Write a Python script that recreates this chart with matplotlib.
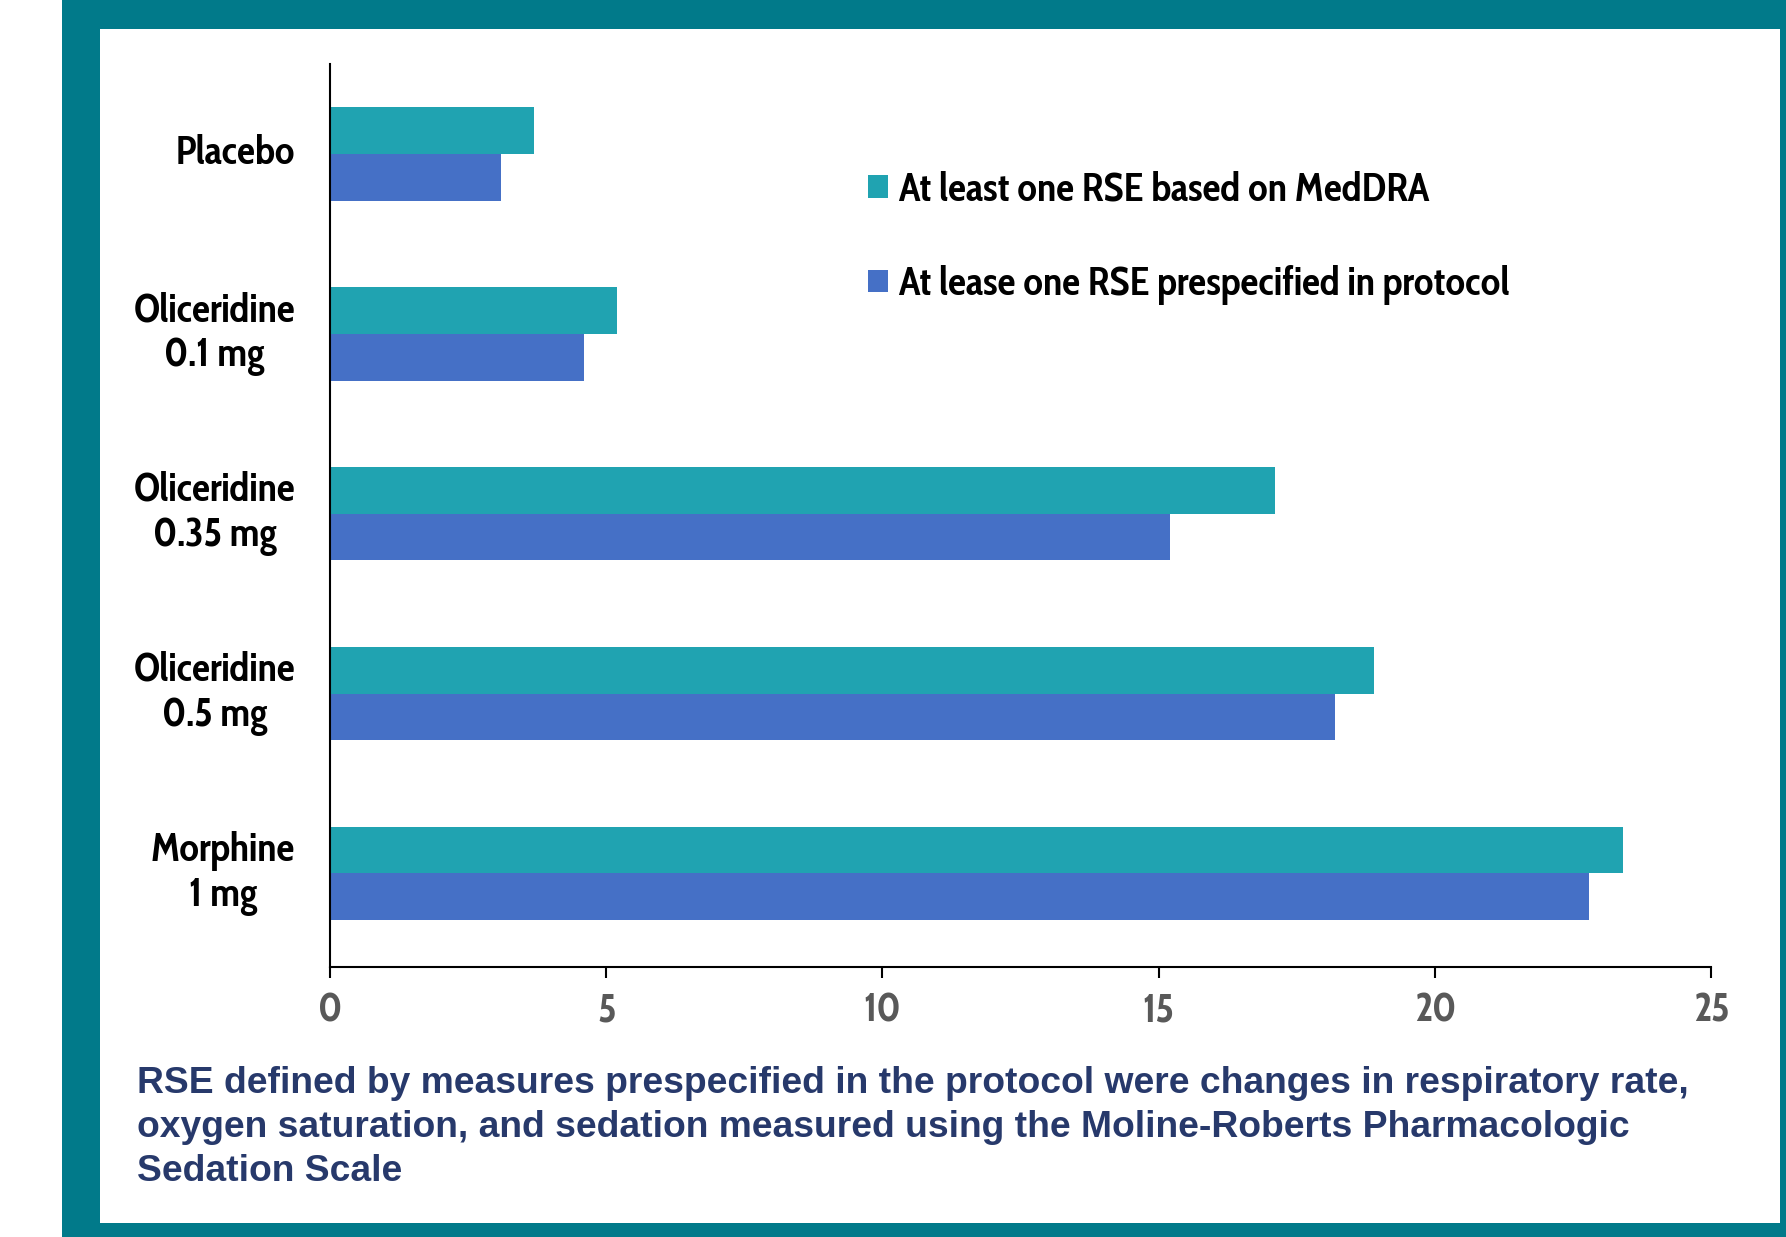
import matplotlib
matplotlib.use("Agg")
import matplotlib.pyplot as plt
from matplotlib.patches import Rectangle, Patch
from matplotlib import font_manager
from matplotlib.textpath import TextPath
import numpy as np

groups = ["Placebo", "Oliceridine\n0.1 mg", "Oliceridine\n0.35 mg",
          "Oliceridine\n0.5 mg", "Morphine\n1 mg"]
meddra = [3.7, 5.2, 17.1, 18.9, 23.4]
protocol = [3.1, 4.6, 15.2, 18.2, 22.8]
series_names = ["At least one RSE based on MedDRA",
                "At lease one RSE prespecified in protocol"]
xticks = [0, 5, 10, 15, 20, 25]
note = ("RSE defined by measures prespecified in the protocol were changes in respiratory rate,\n"
        "oxygen saturation, and sedation measured using the Moline-Roberts Pharmacologic\n"
        "Sedation Scale")

TEAL = "#20A3B1"
BLUE = "#4570C6"
FRAME = "#017A8A"
NAVY = "#27396B"


def weight_num(w):
    if isinstance(w, (int, float)):
        return w
    return font_manager.weight_dict.get(w, 400)


def width_ratio(fp):
    # width of a sample line relative to the capital height
    w = TextPath((0, 0), series_names[0], prop=fp).get_extents().width
    c = TextPath((0, 0), "H", prop=fp).get_extents().height
    return w / c, c


# pick the bold narrow face closest to the label proportions
target = 19.0
cands = [f for f in font_manager.fontManager.ttflist if f.style == "normal"
         and 600 <= weight_num(f.weight) <= 800
         and ("narrow" in f.name.lower() or "condensed" in f.name.lower()
              or f.stretch in ("condensed", "semi-condensed"))]
best = None
for f in cands:
    fp = font_manager.FontProperties(fname=f.fname, size=100)
    try:
        r, c = width_ratio(fp)
    except Exception:
        continue
    score = abs(np.log(r / target)) + abs(weight_num(f.weight) - 700) / 2000
    if best is None or score < best[0]:
        best = (score, f.fname, c)
if best is not None:
    face = font_manager.FontProperties(fname=best[1])
    cap = best[2] / 100
else:
    face = font_manager.FontProperties(family="Liberation Sans", weight="bold")
    cap = 0.716
# capitals about 28 px tall at 100 dpi
face.set_size(min(30, 28 / cap * 0.72))

fig = plt.figure(figsize=(17.86, 12.37), dpi=100)
fig.patch.set_facecolor("white")

# teal frame with a white panel inside
fig.patches.append(Rectangle((0.0347, 0), 1 - 0.0347, 1, transform=fig.transFigure,
                             facecolor=FRAME, edgecolor="none", zorder=-2))
fig.patches.append(Rectangle((0.056, 0.0113), 0.99664 - 0.056, 0.97656 - 0.0113,
                             transform=fig.transFigure, facecolor="white",
                             edgecolor="none", zorder=-1))

ax = fig.add_axes([0.1848, 0.2183, 0.958 - 0.1848, 0.9483 - 0.2183])
ax.set_facecolor("none")

y = np.arange(len(groups))
h = 0.26
ax.barh(y - h / 2, meddra, height=h, color=TEAL, label=series_names[0])
ax.barh(y + h / 2, protocol, height=h, color=BLUE, label=series_names[1])

ax.set_xlim(0, 25)
ax.set_ylim(4.52, -0.5)
ax.set_xticks(xticks)
ax.set_xticklabels([str(t) for t in xticks], color="#595959", fontproperties=face)
ax.set_yticks(y)
ax.set_yticklabels(groups, color="black", linespacing=1.18, fontproperties=face)
for lbl in ax.get_yticklabels():
    lbl.set_multialignment("center")
    lbl.set_verticalalignment("center")

ax.tick_params(axis="x", direction="out", length=8, width=1.5, pad=10)
ax.tick_params(axis="y", length=0, pad=25)
for side in ["top", "right"]:
    ax.spines[side].set_visible(False)
for side in ["left", "bottom"]:
    ax.spines[side].set_linewidth(1.5)
    ax.spines[side].set_color("black")

handles = [Patch(facecolor=TEAL, edgecolor="none"), Patch(facecolor=BLUE, edgecolor="none")]
ax.legend(handles, series_names, loc="upper left", bbox_to_anchor=(0.486, 0.8623),
          bbox_transform=fig.transFigure, frameon=False, borderpad=0, borderaxespad=0,
          handlelength=0.5, handleheight=0.5, handletextpad=0.25, labelspacing=1.37,
          prop=face)

fig.text(0.0767, 1 - 1066 / 1237, note, fontfamily="Liberation Sans", fontweight="bold",
         fontsize=26.8, color=NAVY, ha="left", va="top", linespacing=1.33,
         transform=fig.transFigure)

fig.savefig("out.png", dpi=100)
